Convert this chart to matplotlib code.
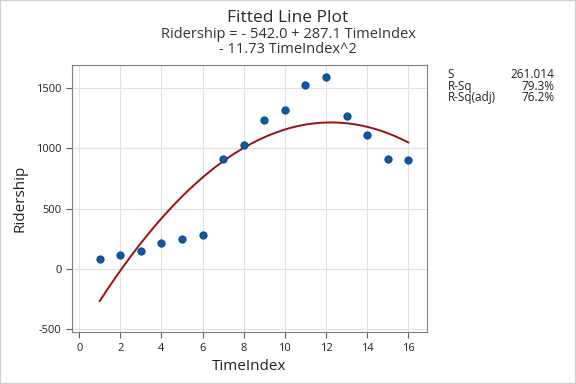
import numpy as np
import matplotlib.pyplot as plt

plt.rcParams['font.family'] = ['Open Sans', 'DejaVu Sans']
plt.rcParams['axes.unicode_minus'] = False

# observed data
time_index = np.arange(1, 17)
ridership = [80, 114, 147, 214, 247, 281, 914, 1031, 1231, 1322,
             1522, 1589, 1272, 1114, 914, 906]

# fitted quadratic coefficients
b0, b1, b2 = -542.0, 287.1, -11.73
stats_labels = ["S", "R-Sq", "R-Sq(adj)"]
stats_values = ["261.014", "79.3%", "76.2%"]

fig = plt.figure(figsize=(5.76, 3.84), dpi=100)
ax = fig.add_axes([0.125, 0.135, 0.616, 0.696])

xs = np.linspace(1, 16, 200)
ax.plot(xs, b0 + b1 * xs + b2 * xs ** 2, color='#9B1010', lw=1.4, zorder=2)
ax.scatter(time_index, ridership, s=28, color='#0A5AA8', edgecolor='#08407A',
           linewidth=0.6, zorder=3)

ax.set_xlim(-0.35, 16.9)
ax.set_ylim(-525, 1692)
ax.set_xticks(range(0, 17, 2))
ax.set_yticks([-500, 0, 500, 1000, 1500])
ax.grid(color='#E0E0E0', lw=0.8)
ax.set_axisbelow(True)
for s in ax.spines.values():
    s.set_color('#808080')
ax.tick_params(labelsize=8, color='#606060', length=4, labelcolor='#222222')
ax.set_xlabel("TimeIndex", fontsize=11, color='#222222', labelpad=4)
ax.set_ylabel("Ridership", fontsize=11, color='#222222', labelpad=6)

fig.text(0.5, 0.943, "Fitted Line Plot", ha='center', fontsize=12.5,
         fontweight='medium', color='#2a2a2a')
fig.text(0.5, 0.862, "Ridership = - 542.0 + 287.1 TimeIndex\n- 11.73 TimeIndex^2",
         ha='center', fontsize=10.5, color='#333333', linespacing=1.0)

for i, (lab, val) in enumerate(zip(stats_labels, stats_values)):
    y = 0.807 - i * 0.031
    fig.text(0.777, y, lab, fontsize=8.5, color='#222222', va='center')
    fig.text(0.962, y, val, fontsize=8.5, color='#222222', va='center', ha='right')

fig.patches.append(plt.Rectangle((0, 0), 1, 1, transform=fig.transFigure,
                                 fill=False, edgecolor='#D0D0D0', lw=1.5))

fig.savefig("out.png", dpi=100)
